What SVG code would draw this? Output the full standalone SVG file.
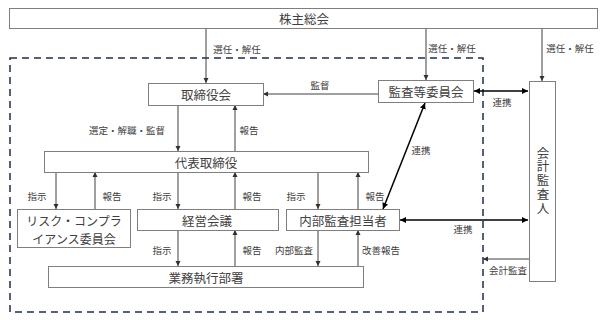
<svg xmlns="http://www.w3.org/2000/svg" width="605" height="320" viewBox="0 0 605 320">
<style>
.box{fill:#fff;stroke:#7f7f7f;stroke-width:1}
.t{font-family:"Noto Sans CJK JP","Noto Sans",sans-serif;font-size:12.5px;fill:#404040;text-anchor:middle;dominant-baseline:central}
.v{font-family:"Noto Sans CJK JP","Noto Sans",sans-serif;font-size:12.5px;fill:#404040;text-anchor:middle;writing-mode:vertical-rl;letter-spacing:1.2px}
.l{font-family:"Noto Sans CJK JP","Noto Sans",sans-serif;font-size:9.5px;fill:#404040;text-anchor:middle;dominant-baseline:central}
.a{stroke:#404040;stroke-width:1;fill:none;marker-end:url(#ah)}
.d{stroke:#000;stroke-width:1.5;fill:none;marker-end:url(#ah2);marker-start:url(#as2)}
</style>
<defs>
<marker id="ah" markerWidth="6" markerHeight="6" refX="5" refY="3" orient="auto" markerUnits="userSpaceOnUse"><path d="M0,0.5 L5,3 L0,5.5 Z" fill="#303030"/></marker>
<marker id="ah2" markerWidth="7" markerHeight="7" refX="6" refY="3.5" orient="auto" markerUnits="userSpaceOnUse"><path d="M0,0.5 L6,3.5 L0,6.5 Z" fill="#000"/></marker>
<marker id="as2" markerWidth="7" markerHeight="7" refX="0" refY="3.5" orient="auto" markerUnits="userSpaceOnUse"><path d="M6,0.5 L0,3.5 L6,6.5 Z" fill="#000"/></marker>
</defs>
<rect width="605" height="320" fill="#fff"/>
<rect x="10" y="58" width="473" height="254" fill="none" stroke="#1f2d4d" stroke-width="1.5" stroke-dasharray="7 5"/>
<g id="connectors">
<path class="a" d="M206,28 V83"/>
<path class="a" d="M426,28 V80"/>
<path class="a" d="M542,28 V81"/>
<path class="a" d="M378,94 H263"/>
<path class="d" d="M474,91 H528"/>
<path class="a" d="M178,105 V151"/>
<path class="a" d="M235,151 V105"/>
<path class="a" d="M56,172 V209"/>
<path class="a" d="M95,209 V172"/>
<path class="a" d="M178,172 V209"/>
<path class="a" d="M235,209 V172"/>
<path class="a" d="M318,172 V209"/>
<path class="a" d="M358,209 V172"/>
<path class="d" d="M383,209 L425,103"/>
<path class="d" d="M400,220 H528"/>
<path class="a" d="M529,259 H483"/>
<path class="a" d="M178,230 V266"/>
<path class="a" d="M235,266 V230"/>
<path class="a" d="M318,230 V266"/>
<path class="a" d="M358,266 V230"/>
<text class="l" x="237" y="49">選任・解任</text>
<text class="l" x="452" y="48">選任・解任</text>
<text class="l" x="570" y="48">選任・解任</text>
<text class="l" x="320" y="85">監督</text>
<text class="l" x="502" y="102">連携</text>
<text class="l" x="127" y="130">選定・解職・監督</text>
<text class="l" x="249" y="130">報告</text>
<text class="l" x="421" y="150">連携</text>
<text class="l" x="37" y="196">指示</text>
<text class="l" x="112" y="196">報告</text>
<text class="l" x="162" y="196">指示</text>
<text class="l" x="252" y="196">報告</text>
<text class="l" x="296" y="196">指示</text>
<text class="l" x="375" y="196">報告</text>
<text class="l" x="463" y="229">連携</text>
<text class="l" x="162" y="250">指示</text>
<text class="l" x="252" y="250">報告</text>
<text class="l" x="294" y="250">内部監査</text>
<text class="l" x="381" y="250">改善報告</text>
<text class="l" x="508" y="270">会計監査</text>
</g>
<g id="shareholders"><rect class="box" x="9.5" y="8.5" width="588" height="20"/><text class="t" x="304" y="18.5">株主総会</text></g>
<g id="board"><rect class="box" x="148.5" y="83.5" width="115" height="22"/><text class="t" x="206" y="94.5">取締役会</text></g>
<g id="audit-committee"><rect class="box" x="378.5" y="80.5" width="95" height="22"/><text class="t" x="426" y="91.5">監査等委員会</text></g>
<g id="accounting-auditor"><rect class="box" x="529.5" y="81.5" width="26" height="200"/>
<text class="v" x="543" y="181">会計監査人</text></g>
<g id="ceo"><rect class="box" x="44.5" y="151.5" width="324" height="21"/><text class="t" x="206" y="162">代表取締役</text></g>
<g id="risk"><rect class="box" x="17.5" y="209.5" width="113" height="38"/><text class="t" style="font-size:12px" x="74" y="219.5"><tspan x="74">リスク・コンプラ</tspan><tspan x="74" dy="18">イアンス委員会</tspan></text></g>
<g id="management"><rect class="box" x="137.5" y="209.5" width="141" height="21"/><text class="t" x="207" y="220">経営会議</text></g>
<g id="internal-audit"><rect class="box" x="286.5" y="209.5" width="113" height="21"/><text class="t" x="343" y="220">内部監査担当者</text></g>
<g id="business"><rect class="box" x="48.5" y="266.5" width="315" height="21"/><text class="t" x="206" y="277">業務執行部署</text></g>
</svg>
